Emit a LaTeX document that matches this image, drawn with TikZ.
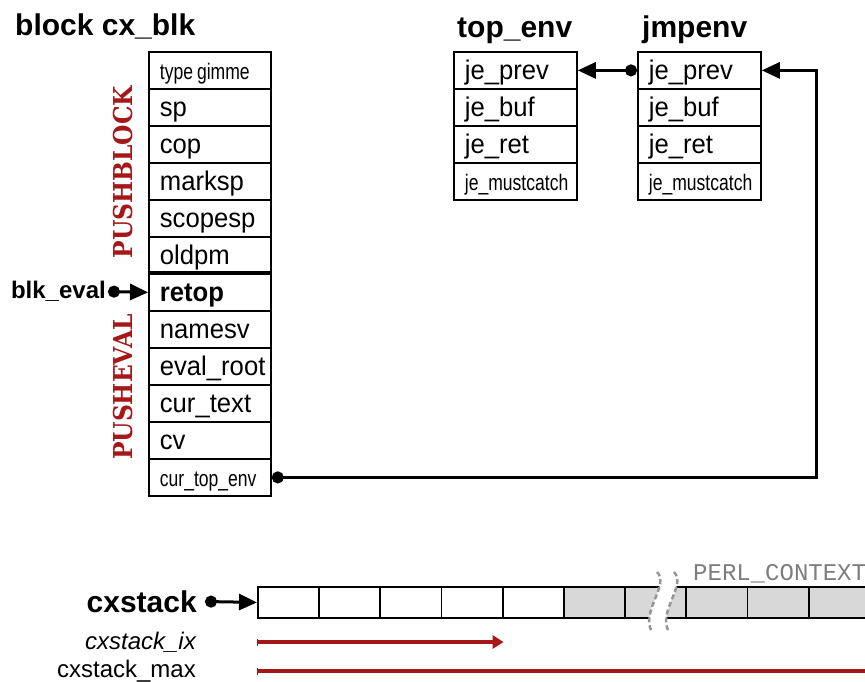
\documentclass[tikz,border=0pt]{standalone}
\usepackage{fontspec}
\setmainfont{Liberation Sans}
\newfontfamily\fieldfont[FakeStretch=0.95]{Liberation Sans}
\newfontfamily\narrowfont[FakeStretch=0.78]{Liberation Sans}
\newfontfamily\slabfont[FakeStretch=0.9]{DejaVu Serif}
\setmonofont{Liberation Mono}
\usetikzlibrary{arrows.meta,positioning}

\definecolor{pushred}{RGB}{165,24,24}
\definecolor{slotgray}{RGB}{216,216,216}
\definecolor{breakgray}{RGB}{150,150,150}
\definecolor{perlgray}{RGB}{125,125,125}

\newcommand{\narrowtext}[1]{{\narrowfont\fontsize{22.5}{25}\selectfont #1}}

\tikzset{
  field/.style={draw, line width=1.8pt, anchor=north west, align=left,
    inner xsep=11pt, inner ysep=0pt, text width=#1, minimum height=37pt,
    text height=22pt, text depth=3pt, font=\fieldfont\fontsize{27}{30}\selectfont},
  field/.default=100pt,
  title/.style={anchor=base west, inner sep=0pt, font=\bfseries\fontsize{30}{32}\selectfont},
  groupname/.style={rotate=90, text=pushred, font=\slabfont\bfseries\fontsize{26}{28}\selectfont},
  slot/.style={draw, line width=1.8pt, anchor=north west, inner sep=0pt,
    minimum width=61.2pt, minimum height=31pt},
  link/.style={line width=3pt, {Circle[length=12pt]}-{Triangle[length=18pt,width=16pt]}},
  ptr/.style={line width=3.5pt, pushred},
  breakline/.style={breakgray, line width=2.5pt, dash pattern=on 5pt off 3pt}
}

\begin{document}
\begin{tikzpicture}[x=1pt, y=-1pt]
  \useasboundingbox (0,0) rectangle (865,681);

  % Parameters
  \def\rowh{37}         % height of one field
  \def\firstrow{51}     % top of the structs
  \def\blkx{148}        % left of cx_blk
  \def\topx{453}        % left of top_env
  \def\jmpx{637}        % left of jmpenv

  % block cx_blk
  \node[title] (blktitle) at (15,35) {block cx\_blk};
  \foreach \txt/\nm [count=\i] in {\narrowtext{type\hspace{4pt}gimme}/gimme, sp/sp, cop/cop,
      marksp/marksp, scopesp/scopesp, oldpm/oldpm, \textbf{retop}/retop, namesv/namesv,
      eval\_root/evalroot, cur\_text/curtext, cv/cv, \narrowtext{cur\_top\_env}/curtopenv}
    \node[field] (blk\nm) at (\blkx,{\firstrow+(\i-1)*\rowh}) {\txt};
  \draw[line width=4pt] (blkretop.north west) -- (blkretop.north east);

  \node[groupname] (pushblock) at (123,172) {PUSHBLOCK};
  \node[groupname] (pusheval) at (123,387) {PUSHEVAL};

  % blk_eval pointer
  \node[anchor=east, inner sep=2pt, font=\bfseries\fontsize{24}{26}\selectfont]
      (blkeval) at (108,291.5) {blk\_eval};
  \draw[link] (blkeval.east) -- (blkretop.west);

  % top_env and jmpenv
  \node[title] (toptitle) at (457,37) {top\_env};
  \node[title] (jmptitle) at (642,37) {jmpenv};
  \foreach \txt/\nm [count=\i] in {je\_prev/prev, je\_buf/buf, je\_ret/ret,
      \narrowtext{je\_mustcatch}/mustcatch} {
    \node[field=101pt] (top\nm) at (\topx,{\firstrow+(\i-1)*\rowh}) {\txt};
    \node[field=101pt] (jmp\nm) at (\jmpx,{\firstrow+(\i-1)*\rowh}) {\txt};
  }

  \draw[link] (jmpprev.west) -- (topprev.east);
  \coordinate (envturn) at (816,0);
  \draw[link] (blkcurtopenv.east) -| (envturn |- jmpprev.east) -- (jmpprev.east);

  % cxstack
  \node[anchor=east, inner sep=8pt, font=\bfseries\fontsize{30}{32}\selectfont]
      (cxstack) at (205,601.5) {cxstack};
  \foreach \i in {1,...,5}
    \node[slot, fill=white] (slot\i) at ({257+61.2*(\i-1)},586) {};
  \foreach \i in {6,...,10}
    \node[slot, fill=slotgray] (slot\i) at ({257+61.2*(\i-1)},586) {};
  \draw[link] (cxstack.east) -- (slot1.west);

  % break in the stack
  \fill[white] (657,572) .. controls (670,585) and (640,612) .. (652,632)
      -- (669,632) .. controls (657,612) and (687,585) .. (674,572) -- cycle;
  \draw[breakline] (657,572) .. controls (670,585) and (640,612) .. (652,632);
  \draw[breakline] (674,572) .. controls (687,585) and (657,612) .. (669,632);
  \node[anchor=base west, inner sep=0pt, text=perlgray, font=\ttfamily\fontsize{24}{26}\selectfont]
      (perlctx) at (693,580) {PERL\_CONTEXT};

  % stack indices
  \node[anchor=east, inner sep=0pt, font=\itshape\fontsize{24}{26}\selectfont]
      (stackix) at (196,642) {cxstack\_ix};
  \node[anchor=east, inner sep=0pt, font=\fontsize{24}{26}\selectfont]
      (stackmax) at (196,671) {cxstack\_max};
  \draw[ptr, {Bar[width=7pt,line width=1pt]}-{Triangle[length=11pt,width=13pt]}]
      (slot1.west |- stackix.east) -- (slot4.east |- stackix.east);
  \draw[ptr, {Bar[width=7pt,line width=1pt]}-]
      (slot1.west |- stackmax.east) -- (slot10.east |- stackmax.east);
\end{tikzpicture}
\end{document}
